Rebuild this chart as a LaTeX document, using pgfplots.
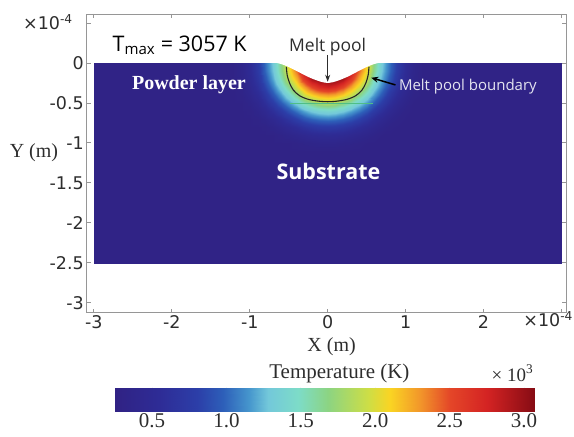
\documentclass[border=0pt]{standalone}
\usepackage{fontspec}
\setmainfont{Liberation Serif}
\newfontfamily\dejavu{DejaVu Sans}
\newfontfamily\osans{Open Sans}
\usepackage{pgfplots}
\pgfplotsset{compat=1.18}
\usetikzlibrary{arrows.meta}

\definecolor{axisgray}{RGB}{150,150,150}
\definecolor{labelgray}{RGB}{45,45,45}
\definecolor{interface}{RGB}{80,190,135}
\definecolor{softwhite}{RGB}{228,228,240}

% temperature colour scale, positions in units of 10 K
\pgfplotsset{
  colormap={heat}{
    rgb255(25pt)=(48,34,132)
    rgb255(55pt)=(46,44,150)
    rgb255(80pt)=(44,62,168)
    rgb255(98pt)=(45,95,185)
    rgb255(115pt)=(70,150,205)
    rgb255(128pt)=(115,200,218)
    rgb255(148pt)=(125,220,200)
    rgb255(168pt)=(140,212,130)
    rgb255(195pt)=(205,222,70)
    rgb255(210pt)=(250,212,35)
    rgb255(230pt)=(242,150,42)
    rgb255(250pt)=(228,70,40)
    rgb255(275pt)=(212,35,35)
    rgb255(307pt)=(135,12,20)
  },
}

\begin{document}
\begin{tikzpicture}[every node/.style={inner sep=1bp}]
\begin{axis}[
  at={(0,0)}, anchor=south west,
  scale only axis, width=480bp, height=299bp,
  xmin=-3.09, xmax=3.064, ymin=-3.125, ymax=0.6125,
  clip=false, no markers,
  colormap name=heat,
  point meta min=0.25, point meta max=3.07,
  axis line style={axisgray, line width=0.8bp},
  tick style={axisgray, line width=0.8bp},
  major tick length=4bp, tick align=inside,
  xtick pos=both, ytick pos=both,
  xtick={-3,-2,-1,0,1,2,3}, xticklabels={-3,-2,-1,0,1,2,{}},
  ytick={-3,-2.5,-2,-1.5,-1,-0.5,0,0.5},
  yticklabels={-3,-2.5,-2,-1.5,-1,-0.5,0,{}},
  tick label style={font=\dejavu\fontsize{17.5bp}{17.5bp}\selectfont, text=labelgray, inner sep=3bp},
]

% substrate and powder layer at ambient temperature
\addplot[surf, shader=flat, mesh/cols=2, point meta=explicit] coordinates {
  (-3,-2.5) [0.29] (3,-2.5) [0.29]
  (-3,0) [0.29] (3,0) [0.29]
};

% temperature field around the laser spot (10^3 K)
\addplot[surf, shader=interp, mesh/cols=25, point meta=explicit] coordinates {
(-1.2,0) [0.30] (-1.1,0) [0.38] (-1,0) [0.53] (-0.9,0) [0.75] (-0.8,0) [1.02] (-0.7,0) [1.30] (-0.6,0) [1.67] (-0.5,0) [2.08] (-0.4,0) [2.48] (-0.3,0) [2.94] (-0.2,0) [3.05] (-0.1,0) [3.05] (0,0) [3.05] (0.1,0) [3.05] (0.2,0) [3.05] (0.3,0) [2.94] (0.4,0) [2.48] (0.5,0) [2.08] (0.6,0) [1.67] (0.7,0) [1.30] (0.8,0) [1.02] (0.9,0) [0.75] (1,0) [0.53] (1.1,0) [0.38] (1.2,0) [0.30]
(-1.2,-0.1) [0.30] (-1.1,-0.1) [0.37] (-1,-0.1) [0.52] (-0.9,-0.1) [0.73] (-0.8,-0.1) [1.00] (-0.7,-0.1) [1.27] (-0.6,-0.1) [1.63] (-0.5,-0.1) [2.04] (-0.4,-0.1) [2.41] (-0.3,-0.1) [2.84] (-0.2,-0.1) [3.05] (-0.1,-0.1) [3.05] (0,-0.1) [3.05] (0.1,-0.1) [3.05] (0.2,-0.1) [3.05] (0.3,-0.1) [2.84] (0.4,-0.1) [2.41] (0.5,-0.1) [2.04] (0.6,-0.1) [1.63] (0.7,-0.1) [1.27] (0.8,-0.1) [1.00] (0.9,-0.1) [0.73] (1,-0.1) [0.52] (1.1,-0.1) [0.37] (1.2,-0.1) [0.30]
(-1.2,-0.2) [0.30] (-1.1,-0.2) [0.36] (-1,-0.2) [0.49] (-0.9,-0.2) [0.68] (-0.8,-0.2) [0.93] (-0.7,-0.2) [1.20] (-0.6,-0.2) [1.52] (-0.5,-0.2) [1.91] (-0.4,-0.2) [2.23] (-0.3,-0.2) [2.60] (-0.2,-0.2) [2.93] (-0.1,-0.2) [3.05] (0,-0.2) [3.05] (0.1,-0.2) [3.05] (0.2,-0.2) [2.93] (0.3,-0.2) [2.60] (0.4,-0.2) [2.23] (0.5,-0.2) [1.91] (0.6,-0.2) [1.52] (0.7,-0.2) [1.20] (0.8,-0.2) [0.93] (0.9,-0.2) [0.68] (1,-0.2) [0.49] (1.1,-0.2) [0.36] (1.2,-0.2) [0.30]
(-1.2,-0.3) [0.29] (-1.1,-0.3) [0.33] (-1,-0.3) [0.44] (-0.9,-0.3) [0.61] (-0.8,-0.3) [0.83] (-0.7,-0.3) [1.08] (-0.6,-0.3) [1.35] (-0.5,-0.3) [1.66] (-0.4,-0.3) [2.00] (-0.3,-0.3) [2.26] (-0.2,-0.3) [2.52] (-0.1,-0.3) [2.70] (0,-0.3) [2.77] (0.1,-0.3) [2.70] (0.2,-0.3) [2.52] (0.3,-0.3) [2.26] (0.4,-0.3) [2.00] (0.5,-0.3) [1.66] (0.6,-0.3) [1.35] (0.7,-0.3) [1.08] (0.8,-0.3) [0.83] (0.9,-0.3) [0.61] (1,-0.3) [0.44] (1.1,-0.3) [0.33] (1.2,-0.3) [0.29]
(-1.2,-0.4) [0.29] (-1.1,-0.4) [0.31] (-1,-0.4) [0.39] (-0.9,-0.4) [0.52] (-0.8,-0.4) [0.70] (-0.7,-0.4) [0.93] (-0.6,-0.4) [1.16] (-0.5,-0.4) [1.41] (-0.4,-0.4) [1.67] (-0.3,-0.4) [1.94] (-0.2,-0.4) [2.11] (-0.1,-0.4) [2.23] (0,-0.4) [2.27] (0.1,-0.4) [2.23] (0.2,-0.4) [2.11] (0.3,-0.4) [1.94] (0.4,-0.4) [1.67] (0.5,-0.4) [1.41] (0.6,-0.4) [1.16] (0.7,-0.4) [0.93] (0.8,-0.4) [0.70] (0.9,-0.4) [0.52] (1,-0.4) [0.39] (1.1,-0.4) [0.31] (1.2,-0.4) [0.29]
(-1.2,-0.5) [0.29] (-1.1,-0.5) [0.29] (-1,-0.5) [0.34] (-0.9,-0.5) [0.43] (-0.8,-0.5) [0.58] (-0.7,-0.5) [0.76] (-0.6,-0.5) [0.96] (-0.5,-0.5) [1.15] (-0.4,-0.5) [1.34] (-0.3,-0.5) [1.54] (-0.2,-0.5) [1.69] (-0.1,-0.5) [1.81] (0,-0.5) [1.85] (0.1,-0.5) [1.81] (0.2,-0.5) [1.69] (0.3,-0.5) [1.54] (0.4,-0.5) [1.34] (0.5,-0.5) [1.15] (0.6,-0.5) [0.96] (0.7,-0.5) [0.76] (0.8,-0.5) [0.58] (0.9,-0.5) [0.43] (1,-0.5) [0.34] (1.1,-0.5) [0.29] (1.2,-0.5) [0.29]
(-1.2,-0.6) [0.29] (-1.1,-0.6) [0.29] (-1,-0.6) [0.30] (-0.9,-0.6) [0.36] (-0.8,-0.6) [0.45] (-0.7,-0.6) [0.59] (-0.6,-0.6) [0.74] (-0.5,-0.6) [0.91] (-0.4,-0.6) [1.06] (-0.3,-0.6) [1.19] (-0.2,-0.6) [1.30] (-0.1,-0.6) [1.37] (0,-0.6) [1.40] (0.1,-0.6) [1.37] (0.2,-0.6) [1.30] (0.3,-0.6) [1.19] (0.4,-0.6) [1.06] (0.5,-0.6) [0.91] (0.6,-0.6) [0.74] (0.7,-0.6) [0.59] (0.8,-0.6) [0.45] (0.9,-0.6) [0.36] (1,-0.6) [0.30] (1.1,-0.6) [0.29] (1.2,-0.6) [0.29]
(-1.2,-0.7) [0.29] (-1.1,-0.7) [0.29] (-1,-0.7) [0.29] (-0.9,-0.7) [0.31] (-0.8,-0.7) [0.36] (-0.7,-0.7) [0.44] (-0.6,-0.7) [0.55] (-0.5,-0.7) [0.67] (-0.4,-0.7) [0.80] (-0.3,-0.7) [0.91] (-0.2,-0.7) [0.99] (-0.1,-0.7) [1.04] (0,-0.7) [1.06] (0.1,-0.7) [1.04] (0.2,-0.7) [0.99] (0.3,-0.7) [0.91] (0.4,-0.7) [0.80] (0.5,-0.7) [0.67] (0.6,-0.7) [0.55] (0.7,-0.7) [0.44] (0.8,-0.7) [0.36] (0.9,-0.7) [0.31] (1,-0.7) [0.29] (1.1,-0.7) [0.29] (1.2,-0.7) [0.29]
(-1.2,-0.8) [0.29] (-1.1,-0.8) [0.29] (-1,-0.8) [0.29] (-0.9,-0.8) [0.29] (-0.8,-0.8) [0.30] (-0.7,-0.8) [0.35] (-0.6,-0.8) [0.41] (-0.5,-0.8) [0.48] (-0.4,-0.8) [0.56] (-0.3,-0.8) [0.64] (-0.2,-0.8) [0.70] (-0.1,-0.8) [0.74] (0,-0.8) [0.75] (0.1,-0.8) [0.74] (0.2,-0.8) [0.70] (0.3,-0.8) [0.64] (0.4,-0.8) [0.56] (0.5,-0.8) [0.48] (0.6,-0.8) [0.41] (0.7,-0.8) [0.35] (0.8,-0.8) [0.30] (0.9,-0.8) [0.29] (1,-0.8) [0.29] (1.1,-0.8) [0.29] (1.2,-0.8) [0.29]
(-1.2,-0.9) [0.29] (-1.1,-0.9) [0.29] (-1,-0.9) [0.29] (-0.9,-0.9) [0.29] (-0.8,-0.9) [0.29] (-0.7,-0.9) [0.29] (-0.6,-0.9) [0.32] (-0.5,-0.9) [0.36] (-0.4,-0.9) [0.40] (-0.3,-0.9) [0.44] (-0.2,-0.9) [0.48] (-0.1,-0.9) [0.50] (0,-0.9) [0.51] (0.1,-0.9) [0.50] (0.2,-0.9) [0.48] (0.3,-0.9) [0.44] (0.4,-0.9) [0.40] (0.5,-0.9) [0.36] (0.6,-0.9) [0.32] (0.7,-0.9) [0.29] (0.8,-0.9) [0.29] (0.9,-0.9) [0.29] (1,-0.9) [0.29] (1.1,-0.9) [0.29] (1.2,-0.9) [0.29]
(-1.2,-1) [0.29] (-1.1,-1) [0.29] (-1,-1) [0.29] (-0.9,-1) [0.29] (-0.8,-1) [0.29] (-0.7,-1) [0.29] (-0.6,-1) [0.29] (-0.5,-1) [0.29] (-0.4,-1) [0.31] (-0.3,-1) [0.33] (-0.2,-1) [0.34] (-0.1,-1) [0.36] (0,-1) [0.36] (0.1,-1) [0.36] (0.2,-1) [0.34] (0.3,-1) [0.33] (0.4,-1) [0.31] (0.5,-1) [0.29] (0.6,-1) [0.29] (0.7,-1) [0.29] (0.8,-1) [0.29] (0.9,-1) [0.29] (1,-1) [0.29] (1.1,-1) [0.29] (1.2,-1) [0.29]
(-1.2,-1.1) [0.29] (-1.1,-1.1) [0.29] (-1,-1.1) [0.29] (-0.9,-1.1) [0.29] (-0.8,-1.1) [0.29] (-0.7,-1.1) [0.29] (-0.6,-1.1) [0.29] (-0.5,-1.1) [0.29] (-0.4,-1.1) [0.29] (-0.3,-1.1) [0.29] (-0.2,-1.1) [0.29] (-0.1,-1.1) [0.29] (0,-1.1) [0.29] (0.1,-1.1) [0.29] (0.2,-1.1) [0.29] (0.3,-1.1) [0.29] (0.4,-1.1) [0.29] (0.5,-1.1) [0.29] (0.6,-1.1) [0.29] (0.7,-1.1) [0.29] (0.8,-1.1) [0.29] (0.9,-1.1) [0.29] (1,-1.1) [0.29] (1.1,-1.1) [0.29] (1.2,-1.1) [0.29]
};

% depressed free surface above the melt pool
\addplot[fill=white, draw=none, smooth] coordinates {
  (-0.8,0.02) (-0.65,0.0) (-0.55,-0.03) (-0.45,-0.075) (-0.35,-0.125)
  (-0.25,-0.175) (-0.15,-0.215) (-0.07,-0.24) (0,-0.25) (0.07,-0.24)
  (0.15,-0.215) (0.25,-0.175) (0.35,-0.125) (0.45,-0.075) (0.55,-0.03)
  (0.65,0.0) (0.8,0.02)
} -- cycle;

% powder / substrate interface inside the heated zone
\addplot[interface, line width=1.4bp] coordinates {(-0.48,-0.51) (0.58,-0.51)};

% melt pool boundary (liquidus contour)
\addplot[black!85, line width=1.1bp, smooth] coordinates {
  (-0.53,-0.05) (-0.52,-0.15) (-0.49,-0.25) (-0.44,-0.34) (-0.36,-0.41)
  (-0.25,-0.455) (-0.12,-0.478) (0,-0.485) (0.12,-0.478) (0.25,-0.455)
  (0.36,-0.41) (0.44,-0.34) (0.49,-0.25) (0.52,-0.15) (0.53,-0.05)
};

% annotation arrows
\addplot[labelgray, line width=0.8bp, -{Stealth[length=7bp,width=5bp]}] coordinates {(0,0.1) (0,-0.235)};
\addplot[black, line width=1.5bp, -{Stealth[length=7bp,width=6bp]}] coordinates {(0.87,-0.275) (0.56,-0.185)};

% annotations
\node[font=\osans\fontsize{21.5bp}{22bp}\selectfont, text=black] at (axis cs:-1.9,0.225) {T\textsubscript{max} = 3057 K};
\node[font=\osans\fontsize{17.5bp}{17.5bp}\selectfont, text=labelgray] at (axis cs:0,0.2) {Melt pool};
\node[font=\osans\fontsize{15bp}{15bp}\selectfont, text=softwhite, anchor=west] at (axis cs:0.9,-0.30) {Melt pool boundary};
\node[font=\bfseries\fontsize{20bp}{20bp}\selectfont, text=white] at (axis cs:-1.78,-0.275) {Powder layer};
\node[font=\osans\bfseries\fontsize{21.5bp}{22bp}\selectfont, text=white] at (axis cs:0.01,-1.36) {Substrate};

% axis labels and scale factors
\node[font=\fontsize{20bp}{20bp}\selectfont, text=labelgray] at (axis cs:-3.77,-1.125) {Y (m)};
\node[font=\fontsize{20bp}{20bp}\selectfont, text=labelgray] at (axis cs:0.05,-3.55) {X (m)};
\node[font=\dejavu\fontsize{17.5bp}{17.5bp}\selectfont, text=labelgray] at (axis cs:-3.59,0.51) {×10\textsuperscript{-4}};
\node[font=\dejavu\fontsize{17.5bp}{17.5bp}\selectfont, text=labelgray] at (axis cs:2.83,-3.21) {×10\textsuperscript{-4}};
\node[font=\fontsize{21bp}{21bp}\selectfont, text=labelgray] at (axis cs:0.15,-3.88) {Temperature (K)};
\node[font=\fontsize{19bp}{19bp}\selectfont, text=labelgray] at (axis cs:2.37,-3.88) {× 10\textsuperscript{3}};

% page extent
\path (axis cs:-4.205,0.7875) rectangle (axis cs:3.154,-4.675);
\end{axis}

% colour bar (10^3 K)
\begin{axis}[
  at={(28bp,-75bp)}, anchor=north west,
  scale only axis, width=420bp, height=24bp,
  xmin=0.25, xmax=3.07, ymin=0, ymax=1,
  colormap name=heat,
  point meta min=0.25, point meta max=3.07,
  axis line style={draw=none},
  ytick=\empty,
  xtick={0.5,1,1.5,2,2.5,3}, xticklabels={0.5,1.0,1.5,2.0,2.5,3.0},
  xtick pos=both, tick align=inside, major tick length=2.5bp,
  tick style={black!75, line width=1.2bp},
  xticklabel style={font=\fontsize{21bp}{21bp}\selectfont, text=labelgray, inner sep=2bp},
]
\addplot[surf, shader=interp, mesh/cols=14, point meta=explicit] coordinates {
  (0.25,0) [0.25] (0.55,0) [0.55] (0.80,0) [0.80] (0.98,0) [0.98] (1.15,0) [1.15] (1.28,0) [1.28] (1.48,0) [1.48]
  (1.68,0) [1.68] (1.95,0) [1.95] (2.10,0) [2.10] (2.30,0) [2.30] (2.50,0) [2.50] (2.75,0) [2.75] (3.07,0) [3.07]
  (0.25,1) [0.25] (0.55,1) [0.55] (0.80,1) [0.80] (0.98,1) [0.98] (1.15,1) [1.15] (1.28,1) [1.28] (1.48,1) [1.48]
  (1.68,1) [1.68] (1.95,1) [1.95] (2.10,1) [2.10] (2.30,1) [2.30] (2.50,1) [2.50] (2.75,1) [2.75] (3.07,1) [3.07]
};
\end{axis}
\end{tikzpicture}
\end{document}
